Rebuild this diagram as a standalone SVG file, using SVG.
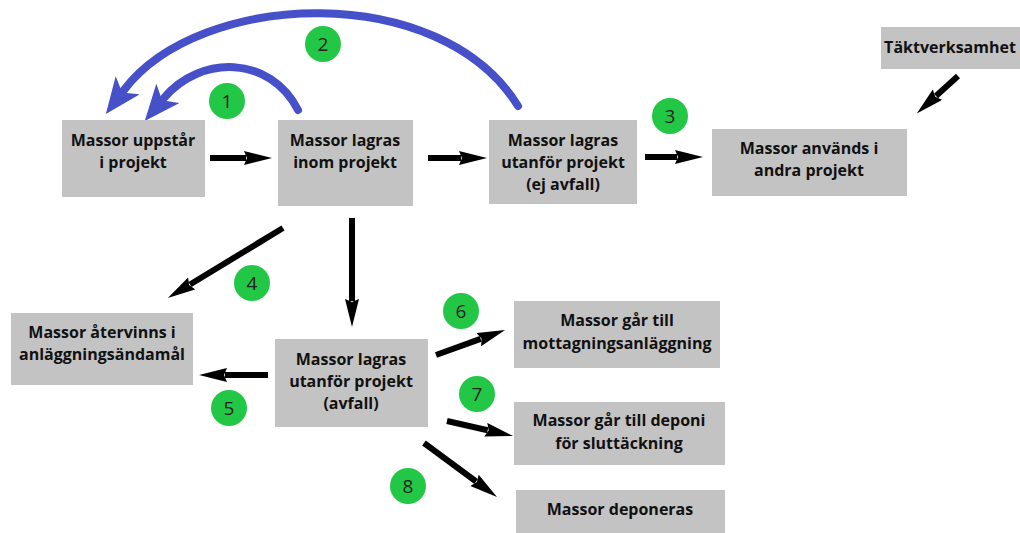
<svg xmlns="http://www.w3.org/2000/svg" width="1020" height="533" viewBox="0 0 1020 533">
<style>
.box{fill:#c3c3c3}
.t{font-family:"Open Sans","Noto Sans",sans-serif;font-weight:700;font-size:16px;fill:#111;text-anchor:middle}
.arr{stroke:#000;stroke-width:6;fill:none;marker-end:url(#ah)}
.blue{stroke:#4650c8;stroke-width:8;fill:none;stroke-linecap:round;marker-end:url(#bh)}
.c{fill:#22c845}
.n{font-family:"Open Sans","Noto Sans",sans-serif;font-size:19px;fill:#222;text-anchor:middle}
</style>
<defs>
<marker id="ah" markerUnits="userSpaceOnUse" markerWidth="30" markerHeight="16" refX="2" refY="7" orient="auto" viewBox="0 0 30 16">
<path d="M0,0 L28,7 L0,14 L3,7 z" fill="#000"/>
</marker>
<marker id="bh" markerUnits="userSpaceOnUse" markerWidth="38" markerHeight="32" refX="6" refY="15" orient="auto" viewBox="0 0 38 32">
<path d="M0,0 L36,15 L0,30 L9,15 z" fill="#4650c8"/>
</marker>
</defs>
<g id="connectors">
<path class="arr" d="M210,158 L246,158"/>
<path class="arr" d="M428,158 L461,158"/>
<path class="arr" d="M645,157 L677,157"/>
<path class="arr" d="M958,76 L936,96"/>
<path class="arr" d="M283,228 L190,284.5"/>
<path class="arr" d="M352,218 L352,301"/>
<path class="arr" d="M268,375 L225,375"/>
<path class="arr" d="M436,355 L480.6,338.9"/>
<path class="arr" d="M447,421 L487.7,430.2"/>
<path class="arr" d="M424,443 L476.1,481.5"/>
<path class="blue" d="M298,110 C270,55 200,55 164,98"/>
<path class="blue" d="M518,106 C440,-20 200,-10 124,90"/>
</g>
<g id="n1"><rect class="box" x="62" y="120" width="143" height="77"/><text class="t" x="133" y="146">Massor uppstår</text><text class="t" x="133" y="168">i projekt</text></g>
<g id="n2"><rect class="box" x="278" y="120" width="135" height="86"/><text class="t" x="345" y="146">Massor lagras</text><text class="t" x="345" y="168">inom projekt</text></g>
<g id="n3"><rect class="box" x="489" y="120" width="148" height="84"/><text class="t" x="563" y="146">Massor lagras</text><text class="t" x="563" y="168">utanför projekt</text><text class="t" x="563" y="190">(ej avfall)</text></g>
<g id="n4"><rect class="box" x="712" y="129" width="195" height="67"/><text class="t" x="809" y="154">Massor används i</text><text class="t" x="809" y="176">andra projekt</text></g>
<g id="n5"><rect class="box" x="881" y="27" width="139" height="42"/><text class="t" x="950" y="53">Täktverksamhet</text></g>
<g id="n6"><rect class="box" x="11" y="313" width="182" height="72"/><text class="t" x="102" y="338">Massor återvinns i</text><text class="t" x="102" y="360">anläggningsändamål</text></g>
<g id="n7"><rect class="box" x="275" y="339" width="153" height="88"/><text class="t" x="351" y="365">Massor lagras</text><text class="t" x="351" y="387">utanför projekt</text><text class="t" x="351" y="409">(avfall)</text></g>
<g id="n8"><rect class="box" x="514" y="301" width="206" height="67"/><text class="t" x="617" y="326">Massor går till</text><text class="t" x="617" y="349">mottagningsanläggning</text></g>
<g id="n9"><rect class="box" x="514" y="402" width="211" height="63"/><text class="t" x="619" y="426">Massor går till deponi</text><text class="t" x="619" y="449">för sluttäckning</text></g>
<g id="n10"><rect class="box" x="516" y="490" width="209" height="43"/><text class="t" x="620" y="515">Massor deponeras</text></g>
<g id="badges">
<circle class="c" cx="227" cy="101" r="18"/><text class="n" x="227" y="108">1</text>
<circle class="c" cx="323" cy="44" r="18"/><text class="n" x="323" y="51">2</text>
<circle class="c" cx="670" cy="116" r="18"/><text class="n" x="670" y="123">3</text>
<circle class="c" cx="252" cy="283" r="18"/><text class="n" x="252" y="290">4</text>
<circle class="c" cx="229" cy="408" r="18"/><text class="n" x="229" y="415">5</text>
<circle class="c" cx="461" cy="311" r="18"/><text class="n" x="461" y="318">6</text>
<circle class="c" cx="477" cy="394" r="18"/><text class="n" x="477" y="401">7</text>
<circle class="c" cx="408" cy="486" r="18"/><text class="n" x="408" y="493">8</text>
</g>
</svg>
